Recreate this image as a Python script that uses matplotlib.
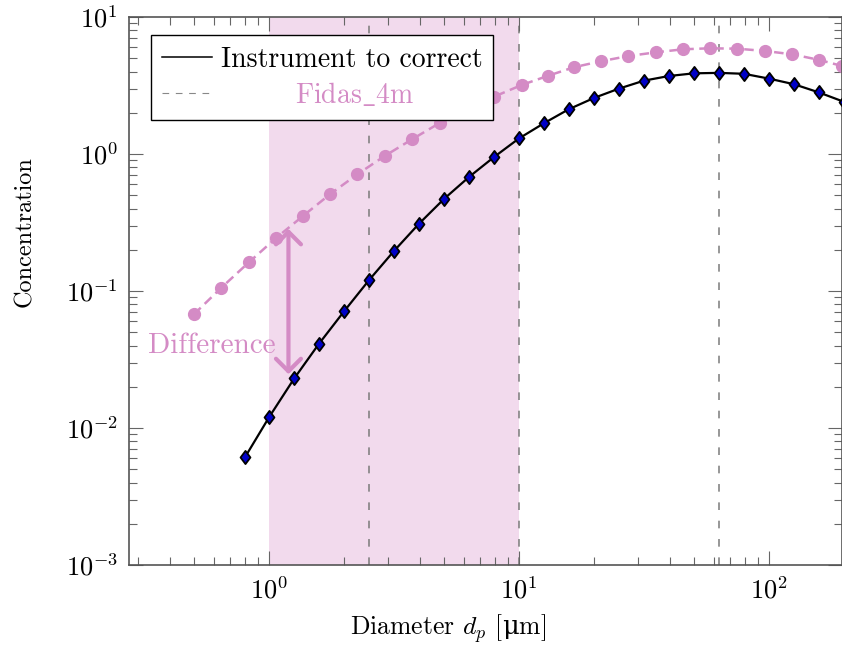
import matplotlib
matplotlib.use("Agg")
import matplotlib.pyplot as plt
from matplotlib.lines import Line2D
from matplotlib.path import Path

# instrument to correct (black line, blue diamonds)
inst_d = [0.8, 1.0, 1.26, 1.58, 2.0, 2.51, 3.16, 3.98, 5.01, 6.31, 7.94, 10.0,
          12.6, 15.8, 20.0, 25.1, 31.6, 39.8, 50.1, 63.1, 79.4, 100.0, 126.0, 158.0, 200.0]
inst_c = [0.0061, 0.012, 0.023, 0.041, 0.0715, 0.12, 0.196, 0.31, 0.47, 0.68, 0.95, 1.30,
          1.68, 2.12, 2.57, 3.0, 3.43, 3.71, 3.88, 3.91, 3.85, 3.55, 3.23, 2.82, 2.4]

# Fidas_4m reference (pink dashed, circles)
fidas_d = [0.50, 0.644, 0.83, 1.067, 1.372, 1.758, 2.255, 2.90, 3.73, 4.83, 6.21, 7.94,
           10.25, 13.1, 16.6, 21.2, 27.4, 35.2, 45.2, 58.0, 74.7, 96.4, 124.0, 159.0, 196.0]
fidas_c = [0.0676, 0.1057, 0.162, 0.244, 0.355, 0.511, 0.711, 0.967, 1.28, 1.69, 2.12, 2.62,
           3.19, 3.73, 4.3, 4.75, 5.19, 5.52, 5.81, 5.91, 5.87, 5.65, 5.34, 4.86, 4.39]

band = (1.0, 10.0)
vlines = [2.5, 10.0, 63.0]
arrow_x = 1.195
arrow_y = (0.284, 0.0247)
diff_pos = (0.59, 0.0397)

pink = "#d48bc5"
shade = "#f2daed"

plt.rcParams["font.family"] = ["cmr10", "DejaVu Serif"]
plt.rcParams["mathtext.fontset"] = "cm"
plt.rcParams["axes.formatter.use_mathtext"] = True
# only used by the x label (upright mu is not in the cm fonts)
plt.rcParams["mathtext.rm"] = "cmr10"
plt.rcParams["mathtext.it"] = "cmmi10"
plt.rcParams["mathtext.sf"] = "DejaVu Serif"

fig = plt.figure(figsize=(8.42, 6.52), dpi=100)
ax = fig.add_axes([129 / 842, 1 - 565 / 652, 713 / 842, 548 / 652])
ax.set_xscale("log")
ax.set_yscale("log")
ax.set_xlim(0.275, 196)
ax.set_ylim(1e-3, 10)

ax.axvspan(*band, color=shade, lw=0, zorder=0.5)
for v in vlines:
    ax.axvline(v, color="#7a7a7a", lw=1.1, ls=(0, (5, 7)), zorder=1)

ax.plot(fidas_d, fidas_c, color=pink, lw=1.8, ls=(0, (3.8, 2.2)),
        marker="o", ms=8.5, mec=pink, mfc=pink, zorder=2)

diamond = Path([(0, 1), (0.75, 0), (0, -1), (-0.75, 0), (0, 1)],
               [Path.MOVETO, Path.LINETO, Path.LINETO, Path.LINETO, Path.CLOSEPOLY])
ax.plot(inst_d, inst_c, color="black", lw=1.6, marker=diamond, ms=9.5,
        mfc="#0000c8", mec="black", mew=1.3, zorder=3)

ax.annotate("", xy=(arrow_x, arrow_y[1]), xytext=(arrow_x, arrow_y[0]),
            arrowprops=dict(arrowstyle="<->,head_length=0.45,head_width=0.45",
                            color=pink, lw=3, shrinkA=0, shrinkB=0,
                            mutation_scale=20), zorder=4)
ax.text(diff_pos[0], diff_pos[1], "Difference", color=pink, fontsize=21,
        ha="center", va="center", zorder=4)

handles = [Line2D([], [], color="black", lw=1.1),
           Line2D([], [], color="#888888", lw=0.8, ls=(0, (6, 6)))]
leg = ax.legend(handles, ["Instrument to correct", r"        Fidas$\_$4m"],
                loc="upper left", bbox_to_anchor=(0.031, 0.967), borderaxespad=0,
                fontsize=20, handlelength=1.8, handletextpad=0.3,
                borderpad=0.4, labelspacing=0.3, fancybox=False,
                framealpha=1, edgecolor="black")
leg.get_frame().set_linewidth(1.0)
leg.get_texts()[1].set_color(pink)
leg.set_zorder(10)

for s in ax.spines.values():
    s.set_color("#555555")
    s.set_linewidth(1.2)
ax.tick_params(which="both", direction="in", top=True, right=True,
               color="#666666", width=0.8, labelsize=19)
ax.tick_params(which="major", length=10, pad=8)
ax.tick_params(which="minor", length=6)

ax.set_xlabel(r"Diameter $d_p$ [$\mathsf{\mu}$m]", fontsize=18.5,
              math_fontfamily="custom")
ax.set_ylabel("Concentration", fontsize=17.5)
ax.xaxis.set_label_coords(0.447, -0.086)
ax.yaxis.set_label_coords(-0.13, 0.608)

fig.savefig("out.png", dpi=100)
